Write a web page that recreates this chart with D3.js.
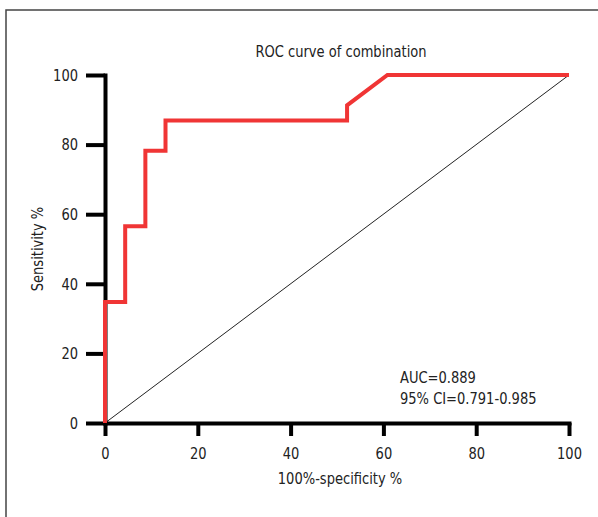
<!DOCTYPE html>
<html>
<head>
<meta charset="utf-8">
<script src="https://cdn.jsdelivr.net/npm/d3@7"></script>
<style>
  html, body { margin: 0; padding: 0; background: #fff; }
  svg text { font-family: "Liberation Sans Narrow", "DejaVu Sans Condensed", "Roboto", sans-serif; fill: #222; }
</style>
</head>
<body>
<svg id="chart" width="598" height="517"></svg>
<script>
// ROC curve points (false-positive rate %, sensitivity %)
const fpr = [0, 0, 4.35, 4.35, 8.70, 8.70, 13.04, 13.04, 52.17, 52.17, 60.87, 100];
const tpr = [0, 34.78, 34.78, 56.52, 56.52, 78.26, 78.26, 86.96, 86.96, 91.30, 100, 100];
const xTicks = [0, 20, 40, 60, 80, 100];
const yTicks = [0, 20, 40, 60, 80, 100];
const title = "ROC curve of combination";
const xLabel = "100%-specificity %";
const yLabel = "Sensitivity %";
const statLines = ["AUC=0.889", "95% CI=0.791-0.985"];

const svg = d3.select("#chart");
const W = 598, H = 517;
const FS = 16.5;   // font size
const SX = 0.88;   // horizontal squeeze for a condensed look

// text placed at (px,py), squeezed horizontally around its anchor
function label(px, py, str, anchor, rot) {
  const g = svg.append("g")
    .attr("transform", `translate(${px},${py})` + (rot ? ` rotate(${rot})` : ""));
  return g.append("text")
    .attr("transform", `scale(${SX},1)`)
    .attr("text-anchor", anchor)
    .attr("font-size", FS)
    .text(str);
}

// outer frame (open beyond the right and bottom edges)
svg.append("rect")
  .attr("x", 6).attr("y", 10)
  .attr("width", W).attr("height", H)
  .attr("fill", "none").attr("stroke", "#444").attr("stroke-width", 1.5);

const x = d3.scaleLinear().domain([0, 100]).range([105, 569]);
const y = d3.scaleLinear().domain([0, 100]).range([423, 75]);

// title
label(341, 57, title, "middle");

// reference diagonal
svg.append("line")
  .attr("x1", x(0)).attr("y1", y(0))
  .attr("x2", x(100)).attr("y2", y(100))
  .attr("stroke", "#222").attr("stroke-width", 1);

// axes
const xAxis = svg.append("g")
  .attr("transform", `translate(0,${y(0)})`)
  .call(d3.axisBottom(x).tickValues(xTicks).tickSize(13).tickSizeOuter(0).tickPadding(11));
const yAxis = svg.append("g")
  .attr("transform", `translate(${x(0)},0)`)
  .call(d3.axisLeft(y).tickValues(yTicks).tickSize(19).tickSizeOuter(0).tickPadding(8));

[xAxis, yAxis].forEach(g => {
  g.select(".domain").attr("stroke", "#000").attr("stroke-width", 4).attr("stroke-linecap", "square");
  g.selectAll(".tick line").attr("stroke", "#000").attr("stroke-width", 4);
  g.selectAll(".tick text").attr("font-size", FS).attr("fill", "#222")
    .style("font-family", '"Liberation Sans Narrow", "DejaVu Sans Condensed", "Roboto", sans-serif')
    .attr("transform", `scale(${SX},1)`);
});
// keep y tick labels right-aligned at the same spot after squeezing
yAxis.selectAll(".tick text").attr("x", -27 / SX);

// ROC curve
const pts = fpr.map((v, i) => [v, tpr[i]]);
svg.append("path")
  .datum(pts)
  .attr("d", d3.line().x(d => x(d[0])).y(d => y(d[1])))
  .attr("fill", "none")
  .attr("stroke", "#f03535")
  .attr("stroke-width", 4)
  .attr("stroke-linejoin", "miter");

// axis titles
label(340, 484, xLabel, "middle");
label(43, 249, yLabel, "middle", -90);

// AUC annotation
statLines.forEach((s, i) => label(400, 383 + i * 21, s, "start"));
</script>
</body>
</html>
